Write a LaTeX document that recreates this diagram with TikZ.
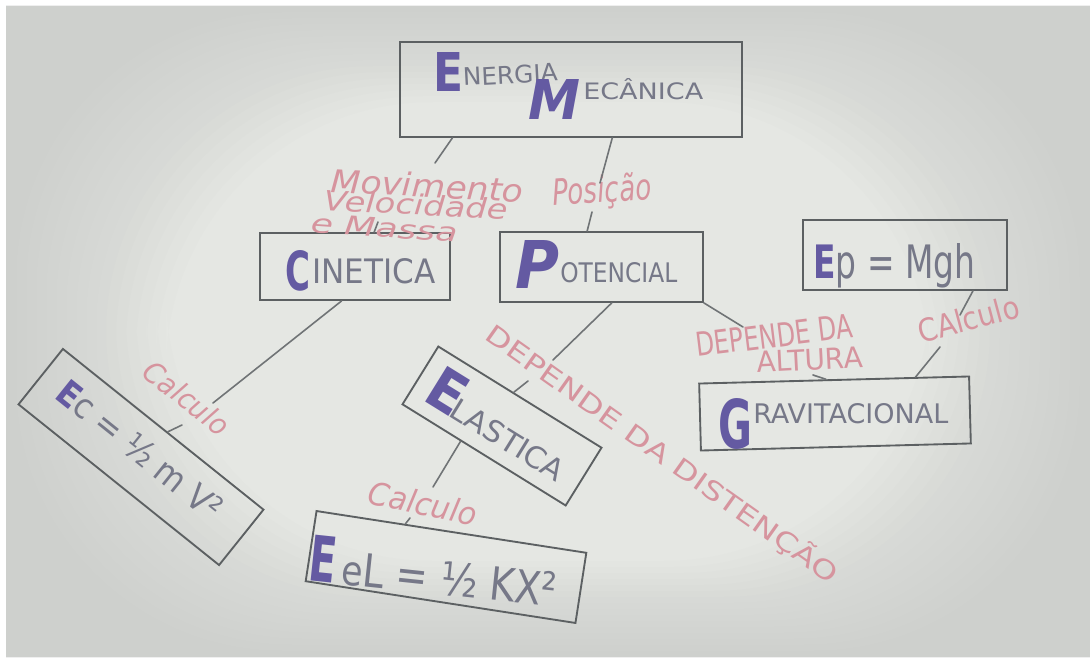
\documentclass[tikz,border=0pt]{standalone}
\usepackage{fontspec}
\usepackage{graphicx}
\setmainfont{DejaVu Sans}
\usetikzlibrary{calc}

% colours of paper, pencil and the two inks
\definecolor{paperin}{RGB}{229,231,227}
\definecolor{paperout}{RGB}{192,194,192}
\definecolor{pencil}{RGB}{92,96,98}
\definecolor{lead}{RGB}{112,116,118}
\definecolor{ink}{RGB}{100,90,162}
\definecolor{graphite}{RGB}{118,120,136}
\definecolor{rose}{RGB}{214,148,158}

% fit a text into a given width and height, both in pixels
\newcommand\fit[3]{\resizebox{\dimexpr#1pt*3/4\relax}{\dimexpr#2pt*3/4\relax}{#3}}

\tikzset{
  box/.style={draw=pencil, line width=1.4pt, inner sep=0pt},
  sz/.style 2 args={minimum width=#1*0.75pt, minimum height=#2*0.75pt},
  big/.style={text=ink, font=\bfseries, inner sep=0pt},
  word/.style={text=graphite, inner sep=0pt},
  note/.style={text=rose, inner sep=0pt},
  link/.style={draw=lead, line width=1.2pt, line cap=round}
}

\begin{document}
\begin{tikzpicture}[x=0.75pt, y=-0.75pt]
\useasboundingbox (0,0) rectangle (1090,660);
\fill[white] (0,0) rectangle (1090,660);
\fill[paperin] (6,6) rectangle (1090,657);
% the sheet darkens gently towards its corners
\foreach \i in {1,...,16}{
  \fill[paperout, fill opacity=0.045, even odd rule]
    (6,6) rectangle (1090,657)
    [rounded corners=200pt] (6+\i*10, 6+\i*6) rectangle (1090-\i*10, 657-\i*6);
}

% ---------- boxes ----------
\node[box, sz={342}{95}] (mec) at (571,89.5) {};
\node[box, sz={190}{67}] (cin) at (355,266.5) {};
\node[box, sz={203}{70}] (pot) at (601.5,267) {};
\node[box, sz={204}{70}] (ep) at (905,255) {};
\node[box, sz={270}{67}, rotate=1.5] (grav) at (835,413.5) {};
\node[box, sz={257}{71}, rotate=-38.7] (ec) at (141,457) {};
\node[box, sz={192}{68}, rotate=-31.8] (ela) at (502,426) {};
\node[box, sz={273}{71}, rotate=-8.8] (eel) at (446,567) {};

% ---------- box texts ----------
\node[big, anchor=base west] (mecE) at (433,92) {\fit{30}{39}{E}};
\node[word, anchor=base west, rotate=3] (mecA) at (463,86) {\fit{95}{18}{NERGIA}};
\node[big, anchor=base west] (mecM) at (528,120) {\fit{52}{40}{\itshape M}};
\node[word, anchor=base west] (mecB) at (583,100) {\fit{120}{21}{ECÂNICA}};

\node[big, anchor=base west] (cinC) at (285,290) {\fit{25}{40}{C}};
\node[word, anchor=base west] (cinW) at (312,283) {\fit{123}{25}{INETICA}};

\node[big, anchor=base west] (potP) at (515,288) {\fit{44}{48}{\itshape P}};
\node[word, anchor=base west] (potW) at (560,282) {\fit{117}{20}{OTENCIAL}};

\node[word, anchor=base west] (epW) at (813,278) {\fit{162}{35}{\textcolor{ink}{\bfseries E}p = Mgh}};

\node[big, anchor=base west] (gravG) at (718,448) {\fit{34}{50}{G}};
\node[word, anchor=base west] (gravW) at (753,423) {\fit{195}{20}{RAVITACIONAL}};

\node[word, rotate=-38.7] (ecW) at (140,450) {\fit{200}{26}{\textcolor{ink}{\bfseries E}c = ½ m V²}};

\node[big, rotate=-31.8] (elaE) at (448,391) {\fit{36}{42}{E}};
\node[word, rotate=-31.8] (elaW) at (508,440) {\fit{128}{22}{LASTICA}};

\node[big, rotate=-6] (eelE) at (323,559) {\fit{27}{46}{E}};
\node[word, anchor=base west, rotate=-6] (eelW) at (340,584) {\fit{216}{34}{{\small e}L = ½ KX²}};

% ---------- link labels ----------
\node[note, anchor=base west, rotate=-3] (lm1) at (330,192) {\fit{193}{24}{\itshape Movimento}};
\node[note, anchor=base west, rotate=-3] (lm2) at (323,210) {\fit{184}{21}{\itshape Velocidade}};
\node[note, anchor=base west, rotate=-4] (lm3) at (310,232) {\fit{147}{19}{\itshape e Massa}};
\node[note, anchor=base west, rotate=4] (lpos) at (553,206) {\fit{99}{28}{\itshape Posição}};
\node[note, rotate=-38] (lc1) at (187,398) {\fit{100}{22}{\itshape Calculo}};
\node[note, rotate=-12] (lc2) at (423,503) {\fit{110}{24}{\itshape Calculo}};
\node[note, rotate=-35.3] (ldis) at (662,454) {\fit{425}{24}{DEPENDE DA DISTENÇÃO}};
\node[note, anchor=base west, rotate=7] (ldep) at (697,357) {\fit{158}{24}{DEPENDE DA}};
\node[note, anchor=base west, rotate=3] (lalt) at (757,373) {\fit{106}{21}{ALTURA}};
\node[note, anchor=base west, rotate=15] (lcal) at (921,344) {\fit{104}{24}{CAlculo}};

% ---------- connector ends at the labels ----------
\coordinate (m1) at (435,163);
\coordinate (m2) at (378,222);
\coordinate (p1) at (600,183);
\coordinate (p2) at (592,212);
\coordinate (c1) at (213,403);
\coordinate (c2) at (182,425);
\coordinate (d1) at (553,360);
\coordinate (d2) at (528,381);
\coordinate (e1) at (433,487);
\coordinate (e2) at (410,518);
\coordinate (g1) at (743,327);
\coordinate (g2) at (813,375);
\coordinate (k1) at (960,315);
\coordinate (k2) at (940,347);

% ---------- connectors ----------
\draw[link] ($(mec.south west)!0.155!(mec.south east)$) -- (m1);
\draw[link] (m2) -- ($(cin.north west)!0.6!(cin.north east)$);
\draw[link] ($(mec.south west)!0.62!(mec.south east)$) -- (p1);
\draw[link] (p2) -- ($(pot.north west)!0.43!(pot.north east)$);
\draw[link] ($(cin.south west)!0.43!(cin.south east)$) -- (c1);
\draw[link] (c2) -- ($(ec.north west)!0.52!(ec.north east)$);
\draw[link] ($(pot.south west)!0.55!(pot.south east)$) -- (d1);
\draw[link] (d2) -- ($(ela.north west)!0.46!(ela.north east)$);
\draw[link] ($(ela.south west)!0.36!(ela.south east)$) -- (e1);
\draw[link] (e2) -- ($(eel.north west)!0.33!(eel.north east)$);
\draw[link] (pot.south east) -- (g1);
\draw[link] (g2) -- ($(grav.north west)!0.47!(grav.north east)$);
\draw[link] ($(ep.south west)!0.83!(ep.south east)$) -- (k1);
\draw[link] (k2) -- ($(grav.north west)!0.8!(grav.north east)$);
\end{tikzpicture}
\end{document}
